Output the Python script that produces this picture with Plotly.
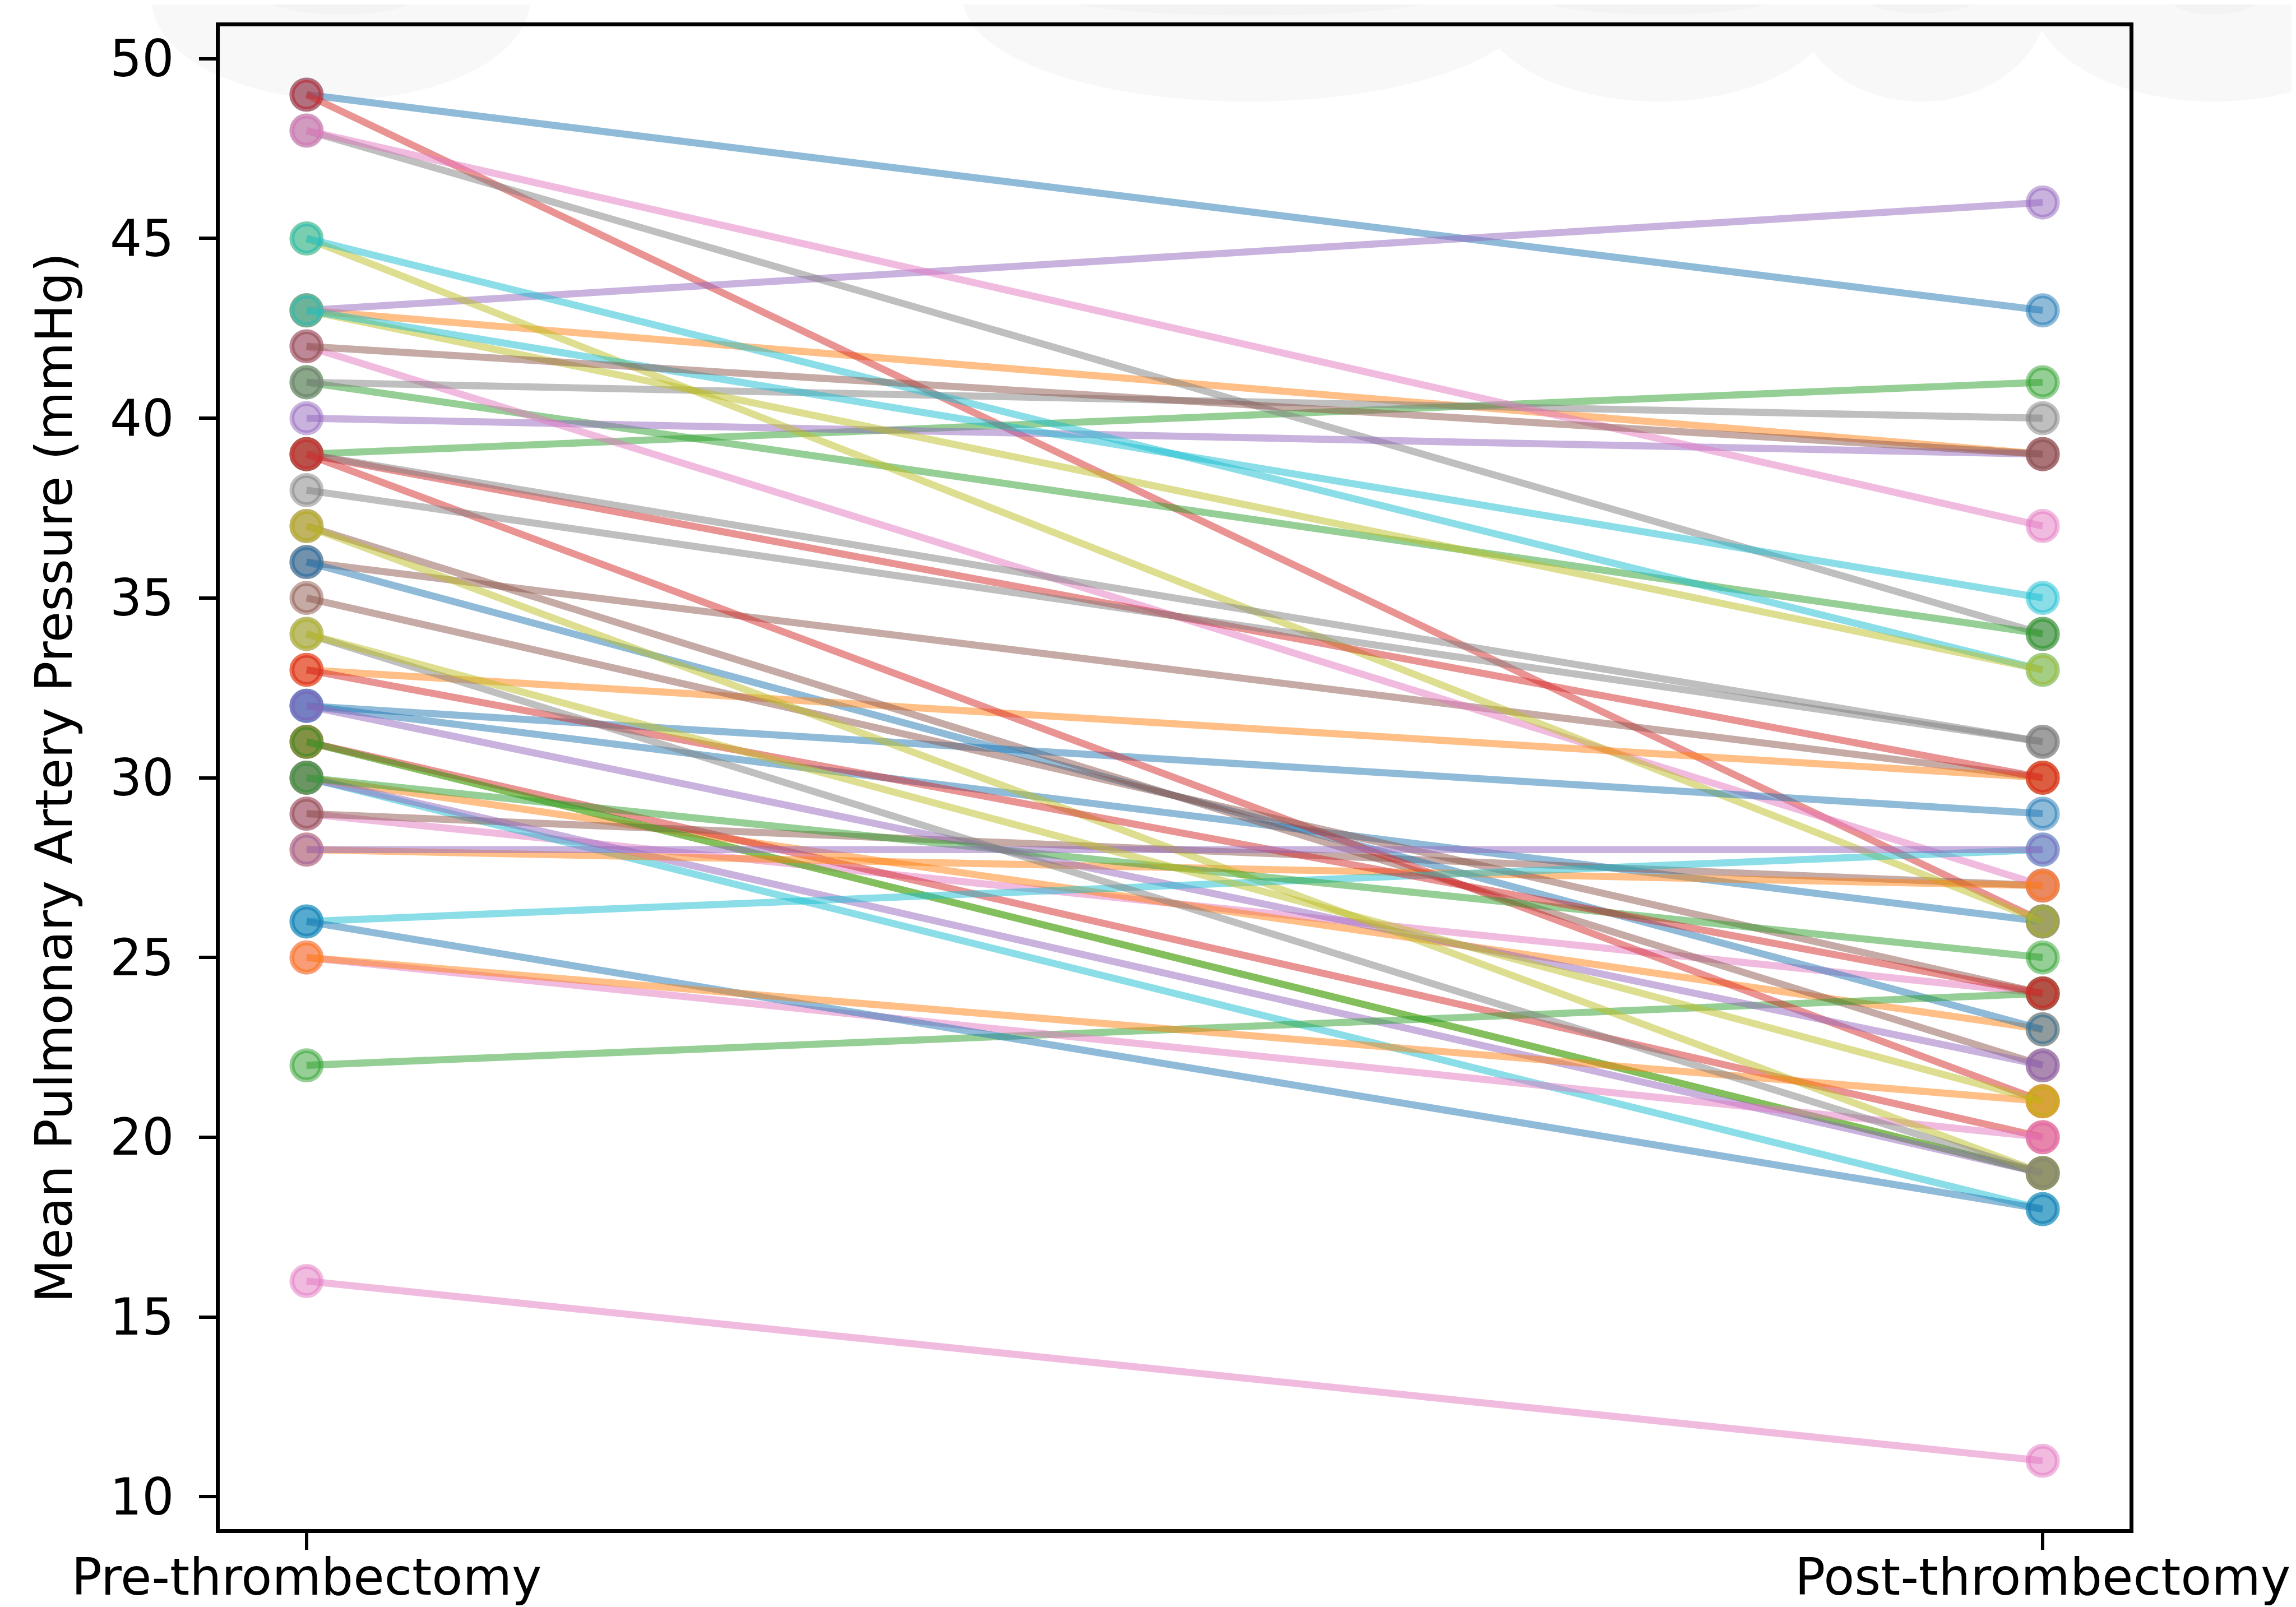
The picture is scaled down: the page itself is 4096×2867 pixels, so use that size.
import numpy as np
import plotly.graph_objects as go

# ---------------- data ----------------
categories = ["Pre-thrombectomy", "Post-thrombectomy"]

pre_mpap = [49, 43, 39, 49, 43, 36, 29, 48, 31, 30,
            32, 30, 41, 31, 40, 29, 42, 41, 45, 45,
            36, 33, 31, 39, 30, 37, 48, 39, 43, 43,
            32, 28, 22, 39, 32, 35, 25, 38, 37, 26,
            26, 25, 30, 33, 28, 42, 16, 34, 34]
post_mpap = [43, 39, 41, 26, 46, 30, 24, 34, 19, 18,
             26, 23, 34, 20, 39, 27, 27, 40, 26, 33,
             23, 30, 19, 30, 19, 22, 37, 31, 33, 35,
             29, 27, 24, 21, 22, 24, 20, 31, 19, 28,
             18, 21, 25, 24, 28, 39, 11, 19, 21]

y_ticks = [10, 15, 20, 25, 30, 35, 40, 45, 50]
y_title = "Mean Pulmonary Artery Pressure (mmHg)"

# ---------------- style ----------------
palette = [(31, 119, 180), (255, 127, 14), (44, 160, 44), (214, 39, 40),
           (148, 103, 189), (140, 86, 75), (227, 119, 194), (127, 127, 127),
           (188, 189, 34), (23, 190, 207)]
ALPHA = 0.5
S = 0.979
W, H = 4096, 2867
L, R, T, B = 384, 305, 39, 147
PT = 8.7              # px per point at this scale
FONT = "DejaVu Sans"
FS = 90

def rgba(c, a):
    return f"rgba({c[0]},{c[1]},{c[2]},{a})"

fig = go.Figure()
for i, (a, b) in enumerate(zip(pre_mpap, post_mpap)):
    c = palette[i % len(palette)]
    fig.add_trace(go.Scatter(
        x=categories, y=[a, b], mode="lines+markers",
        line=dict(color=rgba(c, ALPHA), width=1.45 * PT),
        marker=dict(size=6 * PT, color=rgba(c, ALPHA),
                    line=dict(color=rgba(c, ALPHA), width=1.0 * PT)),
        showlegend=False, hoverinfo="skip"))

# ---------------- faint background blobs at the top ----------------
PW = W - L - R
PH = (H - B) - T

def to_paper(X, Y):
    Xt, Yt = X * S, Y * S
    return (Xt - L) / PW, ((H - B) - Yt) / PH

def half_ellipse(cx, rx, ry):
    th = np.linspace(0, np.pi, 60)
    pts = [to_paper(cx + rx * np.cos(t), -10 + (ry + 10) * np.sin(t)) for t in th]
    return "M " + " L ".join(f"{x:.5f},{y:.5f}" for x, y in pts) + " Z"

blobs = [(613, 345, 173, "#f8f8f8"), (2267, 520, 177, "#f8f8f8"),
         (3013, 330, 177, "#f8f8f8"), (3493, 230, 177, "#f8f8f8"),
         (4027, 330, 177, "#f8f8f8"),
         (613, 130, 18, "#f3f3f3"), (2270, 330, 20, "#f3f3f3"),
         (3013, 210, 18, "#f3f3f3"), (3493, 100, 16, "#f3f3f3"),
         (4027, 80, 18, "#f3f3f3")]
shapes = [dict(type="path", xref="paper", yref="paper", path=half_ellipse(cx, rx, ry),
               fillcolor=col, line=dict(width=0), layer="below")
          for cx, rx, ry, col in blobs]

axis_common = dict(showline=True, mirror=True, linecolor="black", linewidth=0.8 * PT,
                   ticks="outside", ticklen=3.5 * PT, tickwidth=0.7 * PT, tickcolor="black",
                   showgrid=False, zeroline=False, automargin=False,
                   tickfont=dict(family=FONT, size=FS, color="black"))

fig.update_layout(
    width=W, height=H,
    margin=dict(l=L, r=R, t=T, b=B, pad=0, autoexpand=False),
    paper_bgcolor="white", plot_bgcolor="rgba(0,0,0,0)",
    shapes=shapes,
    xaxis=dict(range=[-0.05, 1.05], type="category", ticklabelstandoff=-28, **axis_common),
    yaxis=dict(range=[9.1, 50.9], tickvals=y_ticks, ticklabelstandoff=26,
               title=dict(text=y_title, font=dict(family=FONT, size=FS, color="black"),
                          standoff=40),
               **axis_common),
)

fig.write_html("out.html")
